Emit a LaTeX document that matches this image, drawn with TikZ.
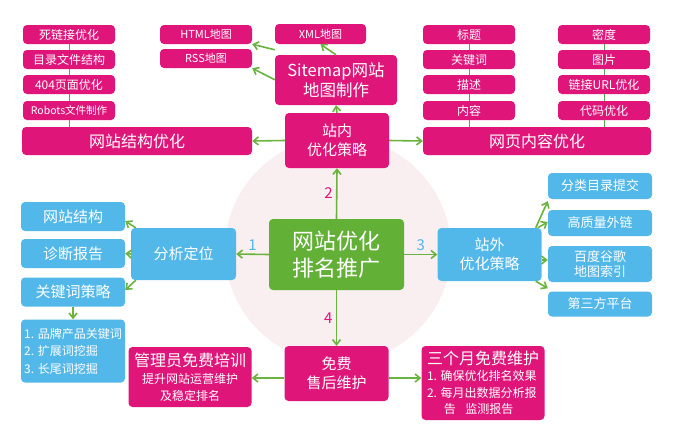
\documentclass[tikz,border=0pt]{standalone}
\usepackage{fontspec}
\setmainfont{Noto Sans CJK SC}
\newfontfamily\cjk{Noto Sans CJK SC}
\usetikzlibrary{arrows.meta}
\definecolor{pinkc}{HTML}{E0157A}
\definecolor{bluec}{HTML}{52B8EA}
\definecolor{greenc}{HTML}{62B036}
\definecolor{arrc}{HTML}{6AB43E}
\definecolor{circc}{HTML}{F9EEF0}
\tikzset{
  box/.style={rounded corners=4pt, text=white, inner sep=1pt, align=center, font=\cjk},
  pbox/.style={box, fill=pinkc},
  bbox/.style={box, fill=bluec},
  small/.style={pbox, minimum width=92pt, minimum height=19pt, font=\cjk\fontsize{12}{13}\selectfont},
  arr/.style={draw=arrc, line width=1.6pt, -{Straight Barb[length=5pt,width=8pt]}},
  vline/.style={draw=gray!70!green, line width=0.8pt},
  num/.style={font=\fontsize{15}{15}\selectfont}
}
\begin{document}
\begin{tikzpicture}[x=1pt,y=-1pt]
\useasboundingbox (0,0) rectangle (676,447);
\fill[white] (0,0) rectangle (676,447);
\fill[circc] (338,250) circle (113);
% left pink stack
\node[small] (d1) at (69,34.5) {死链接优化};
\node[small] (d2) at (69,59.5) {目录文件结构};
\node[small] (d3) at (69,84.5) {404页面优化};
\node[small, font=\cjk\fontsize{10.5}{12}\selectfont] (d4) at (69,110.5) {Robots文件制作};
\node[pbox, minimum width=230pt, minimum height=28pt, font=\cjk\fontsize{16}{18}\selectfont] (jg) at (137,141) {网站结构优化};
\draw[vline] (d1.south) -- (d2.north) (d2.south) -- (d3.north) (d3.south) -- (d4.north) (d4.south) -- (d4.south |- jg.north);
% right pink stacks
\node[small] (a1) at (469,34.5) {标题};
\node[small] (a2) at (469,59.5) {关键词};
\node[small] (a3) at (469,84.5) {描述};
\node[small] (a4) at (469,110.5) {内容};
\node[small] (b1) at (604,34.5) {密度};
\node[small] (b2) at (604,59.5) {图片};
\node[small] (b3) at (604,84.5) {链接URL优化};
\node[small] (b4) at (604,110.5) {代码优化};
\node[pbox, minimum width=228pt, minimum height=28pt, font=\cjk\fontsize{16}{18}\selectfont] (nr) at (537,141) {网页内容优化};
\draw[vline] (a1.south) -- (a2.north) (a2.south) -- (a3.north) (a3.south) -- (a4.north) (a4.south) -- (a4.south |- nr.north);
\draw[vline] (b1.south) -- (b2.north) (b2.south) -- (b3.north) (b3.south) -- (b4.north) (b4.south) -- (b4.south |- nr.north);
% sitemap
\node[small, font=\cjk\fontsize{11}{12}\selectfont] (html) at (206,34.5) {HTML地图};
\node[small, font=\cjk\fontsize{11}{12}\selectfont] (rss) at (206,58.5) {RSS地图};
\node[small, font=\cjk\fontsize{11}{12}\selectfont, minimum width=91pt, minimum height=20pt] (xml) at (320.5,34) {XML地图};
\node[pbox, minimum width=122pt, minimum height=50pt, font=\cjk\fontsize{16.5}{20}\selectfont] (sm) at (336,80) {Sitemap网站\\地图制作};
\node[pbox, minimum width=104pt, minimum height=55pt, font=\cjk\fontsize{15}{19}\selectfont] (zn) at (337,140.5) {站内\\优化策略};
% center
\node[box, fill=greenc, minimum width=135pt, minimum height=71pt, font=\cjk\fontsize{22}{27}\selectfont] (c) at (336.5,254.5) {网站优化\\排名推广};
% left blue
\node[bbox, minimum width=105pt, minimum height=52pt, font=\cjk\fontsize{15}{18}\selectfont] (fx) at (183.5,254) {分析定位};
\node[bbox, minimum width=104pt, minimum height=29pt, font=\cjk\fontsize{15}{18}\selectfont] (l1) at (73,216.5) {网站结构};
\node[bbox, minimum width=104pt, minimum height=29pt, font=\cjk\fontsize{15}{18}\selectfont] (l2) at (73,253.5) {诊断报告};
\node[bbox, minimum width=104pt, minimum height=29pt, font=\cjk\fontsize{15}{18}\selectfont] (l3) at (73,292) {关键词策略};
\node[bbox, minimum width=104pt, minimum height=63pt, align=left, font=\cjk\fontsize{12}{17.5}\selectfont] (l4) at (73,351) {1. 品牌产品关键词\\2. 扩展词挖掘\\3. 长尾词挖掘};
% right blue
\node[bbox, minimum width=104pt, minimum height=53pt, font=\cjk\fontsize{15}{19}\selectfont] (zw) at (489.5,254.5) {站外\\优化策略};
\node[bbox, minimum width=104pt, minimum height=26pt, font=\cjk\fontsize{13}{16}\selectfont] (r1) at (600,186) {分类目录提交};
\node[bbox, minimum width=104pt, minimum height=26pt, font=\cjk\fontsize{13}{16}\selectfont] (r2) at (600,223) {高质量外链};
\node[bbox, minimum width=104pt, minimum height=36pt, font=\cjk\fontsize{13}{15}\selectfont] (r3) at (600,264) {百度谷歌\\地图索引};
\node[bbox, minimum width=104pt, minimum height=25pt, font=\cjk\fontsize{13}{16}\selectfont] (r4) at (600,304) {第三方平台};
% bottom pink
\node[pbox, minimum width=104pt, minimum height=55pt, font=\cjk\fontsize{15}{19}\selectfont] (mf) at (336.5,373.5) {免费\\售后维护};
\node[pbox, minimum width=123pt, minimum height=60pt, font=\cjk\fontsize{12}{17}\selectfont] (gl) at (190,377) {{\fontsize{16}{19}\selectfont 管理员免费培训}\\提升网站运营维护\\及稳定排名};
\node[pbox, minimum width=123pt, minimum height=74pt, align=left, font=\cjk\fontsize{12}{16.5}\selectfont] (sg) at (483,383) {{\fontsize{16}{19}\selectfont 三个月免费维护}\\1. 确保优化排名效果\\2. 每月出数据分析报\\\hspace*{1.4em}告\hspace{0.8em}监测报告};
% arrows
\draw[arr] (sm.north) -- (xml.south);
\draw[arr] ([yshift=5pt]sm.north west) -- (html.south east);
\draw[arr] ([yshift=-25pt]sm.north west) -- (rss.south east);
\draw[arr] (zn.north) -- (sm.south);
\draw[arr] (zn.west) -- (jg.east);
\draw[arr] (zn.east) -- (nr.west);
\draw[arr] (c.north) -- node[num, left, text=pinkc, pos=0.5] {2} (zn.south);
\draw[arr] (c.west) -- node[num, above, text=bluec] {1} (fx.east);
\draw[arr] (c.east) -- node[num, above, text=bluec] {3} (zw.west);
\draw[arr] (c.south) -- node[num, left, text=pinkc] {4} (mf.north);
\draw[arr] ([xshift=5pt]fx.north west) -- (l1.east |- 0,221);
\draw[arr] (fx.west) -- (l2.east);
\draw[arr] ([xshift=5pt]fx.south west) -- (l3.east |- 0,290);
\draw[arr] (l3.south) -- (l4.north);
\draw[arr] ([xshift=-6pt]zw.north east) -- ([yshift=-2pt]r1.south west);
\draw[arr] ([xshift=-4pt]zw.north east) -- (r2.west |- 0,222);
\draw[arr] (zw.east |- 0,260) -- (r3.west |- 0,260);
\draw[arr] ([xshift=-6pt]zw.south east) -- ([yshift=3pt]r4.north west);
\draw[arr] (mf.west |- 0,378) -- (gl.east |- 0,378);
\draw[arr] (mf.east |- 0,378) -- (sg.west |- 0,378);
\end{tikzpicture}
\end{document}
